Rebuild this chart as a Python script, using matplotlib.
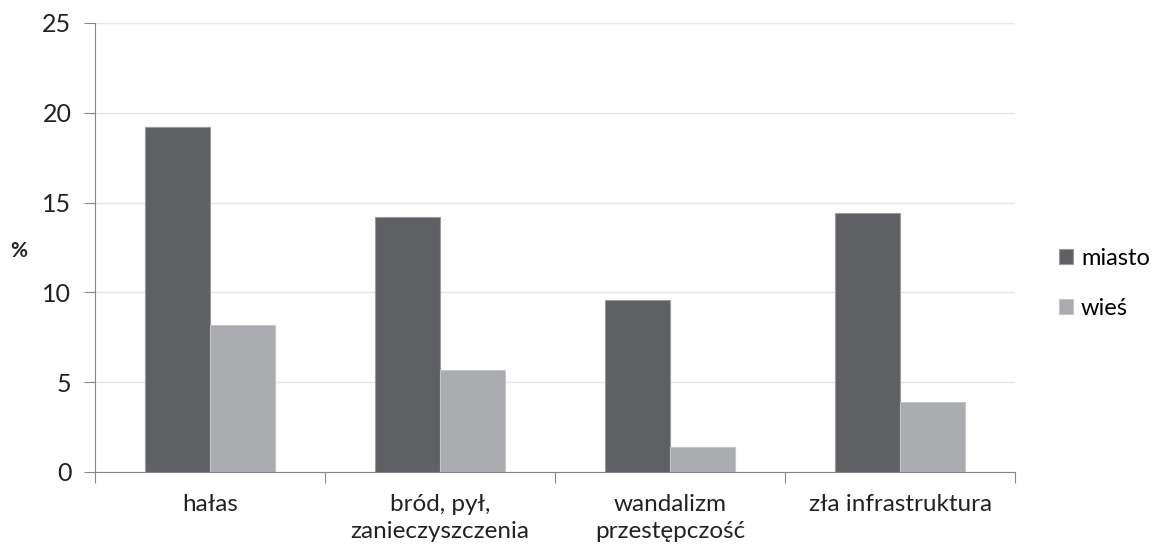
import matplotlib
matplotlib.use("Agg")
import matplotlib.pyplot as plt
import numpy as np

categories = ["hałas", "bród, pył,\nzanieczyszczenia", "wandalizm\nprzestępczość", "zła infrastruktura"]
miasto = [19.2, 14.2, 9.6, 14.4]
wies = [8.2, 5.7, 1.4, 3.9]
series_names = ["miasto", "wieś"]
yticks = [0, 5, 10, 15, 20, 25]

plt.rcParams['font.family'] = ['Lato', 'DejaVu Sans']

fig = plt.figure(figsize=(11.59, 5.51), dpi=100)
ax = fig.add_axes([0.082, 0.1434, 0.794, 0.815])

x = np.arange(len(categories))
w = 0.283
ax.bar(x - w/2, miasto, w, color="#5f6064", edgecolor="#9a9a9c", linewidth=0.8, label=series_names[0], zorder=3)
ax.bar(x + w/2, wies, w, color="#a9abae", edgecolor="#c4c5c7", linewidth=0.8, label=series_names[1], zorder=3)

ax.set_xlim(-0.5, len(categories) - 0.5)
ax.set_ylim(0, 25)
ax.set_yticks(yticks)
ax.set_yticklabels([str(t) for t in yticks], fontsize=18, color="#222222")
ax.yaxis.grid(True, color="#e6e6e6", linewidth=1, zorder=0)
ax.set_axisbelow(True)

ax.set_xticks(np.arange(-0.5, len(categories), 1.0))
ax.set_xticklabels([])
ax.set_xticks(x, minor=True)
ax.set_xticklabels(categories, minor=True, fontsize=17.5, color="#222222", linespacing=1.35)
ax.tick_params(axis='x', which='minor', length=0, pad=16)
ax.tick_params(axis='x', which='major', length=8, color="#888888", direction='out')
ax.tick_params(axis='y', length=8, color="#888888", direction='out', pad=9)

for s in ["top", "right"]:
    ax.spines[s].set_visible(False)
ax.spines["left"].set_color("#888888")
ax.spines["bottom"].set_color("#888888")

fig.text(0.009, 0.545, "%", fontsize=15, fontweight="bold", color="#222222", va="center", ha="left")

leg = ax.legend(loc="center left", bbox_to_anchor=(1.047, 0.42), frameon=False, fontsize=17,
                handlelength=0.6, handleheight=0.6, handletextpad=0.35, labelspacing=1.25,
                borderpad=0, borderaxespad=0)

fig.savefig("out.png", dpi=100)
